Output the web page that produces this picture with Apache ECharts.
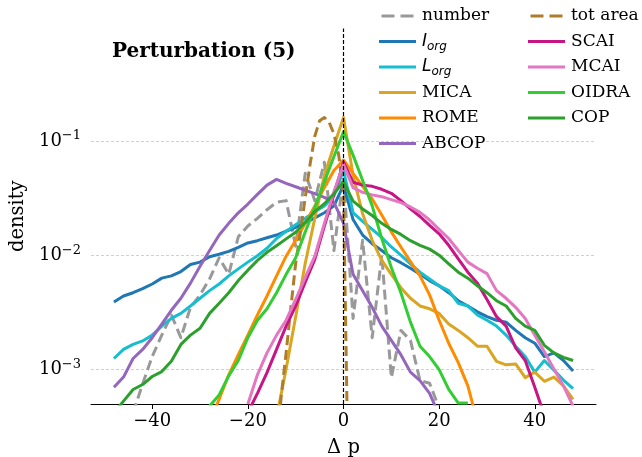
<!DOCTYPE html>
<html><head><meta charset="utf-8">
<script src="https://cdn.jsdelivr.net/npm/echarts@6/dist/echarts.min.js"></script>
<style>html,body{margin:0;padding:0;background:#fff}#c{width:642px;height:457px}</style>
</head><body><div id="c"></div>
<script>
// ---- data (density per bin of Δp) ----
const xs = [-48,-46,-44,-42,-40,-38,-36,-34,-32,-30,-28,-26,-24,-22,-20,-18,-16,-14,-12,-10,-8,-6,-4,-2,0,
            2,4,6,8,10,12,14,16,18,20,22,24,26,28,30,32,34,36,38,40,42,44,46,48];
const xTot = [-14,-13,-12,-11,-10,-9,-8,-7,-6,-5,-4,-3,-2,-1,0,1];

const number = [null,null,0.00042,0.00075,0.0013,0.0020,0.0030,0.0019,0.0035,0.0045,0.0062,0.0095,0.0068,0.0145,0.018,0.021,0.025,0.029,0.030,0.012,0.052,0.030,0.065,0.011,
  0.048,
  0.0028,0.0135,0.0019,0.0100,0.00085,0.0022,0.0018,0.00080,0.00076,0.00046,null,null,null,null,null,null,null,null,null,null,null,null,null,null];
const totArea = [0.0002,0.0006,0.0014,0.0035,0.0085,0.016,0.032,0.062,0.11,0.15,0.16,0.145,0.115,0.075,0.035,0.0001];
const Iorg = [0.0039,0.0044,0.0047,0.0051,0.0056,0.0063,0.0066,0.0072,0.0083,0.0087,0.0097,0.0102,0.0108,0.0117,0.0128,0.0134,0.0142,0.0150,0.0162,0.0175,0.0192,0.0212,0.0235,0.0270,
  0.041,
  0.0205,0.0150,0.0126,0.0110,0.0095,0.0086,0.0077,0.0068,0.0060,0.0054,0.0047,0.0040,0.0036,0.0032,0.0029,0.0027,0.0026,0.0022,0.0019,0.0017,0.0013,0.0014,0.0012,0.00097];
const Lorg = [0.00125,0.00150,0.00166,0.00178,0.0020,0.0024,0.0028,0.0031,0.0036,0.0042,0.0049,0.0056,0.0066,0.0076,0.0087,0.0099,0.0115,0.0140,0.0162,0.0185,0.021,0.024,0.027,0.033,
  0.055,
  0.0236,0.0198,0.0168,0.0143,0.0118,0.0100,0.0084,0.0071,0.0062,0.0054,0.0049,0.0038,0.0036,0.0030,0.0027,0.0024,0.0020,0.0016,0.0013,0.00095,0.0012,0.00099,0.00081,0.00068];
const MICA = [null,null,null,null,null,null,null,null,null,null,null,null,null,null,null,null,null,0.00038,0.00101,0.0029,0.0085,0.021,0.050,0.090,
  0.16,
  0.050,0.023,0.0135,0.0090,0.0068,0.0052,0.0042,0.0036,0.0034,0.0031,0.0025,0.0022,0.0019,0.0016,0.0016,0.00118,0.0011,0.00112,0.00085,0.00095,0.00079,0.00086,0.00072,0.00055];
const ROME = [null,null,null,null,null,null,null,null,null,null,0.00035,0.00055,0.0009,0.00135,0.0020,0.0030,0.0044,0.0066,0.0098,0.0135,0.019,0.027,0.039,0.055,
  0.068,
  0.052,0.040,0.031,0.0225,0.0160,0.0118,0.0088,0.0066,0.0045,0.0027,0.0017,0.00115,0.00072,0.00035,null,null,null,null,null,null,null,null,null,null];
const ABCOP = [0.00070,0.00086,0.00125,0.00150,0.0019,0.0025,0.0033,0.0042,0.0057,0.0080,0.0110,0.0150,0.0190,0.0235,0.028,0.034,0.041,0.046,0.0425,0.0397,0.037,0.0345,0.032,0.029,
  0.019,
  0.0068,0.0049,0.0035,0.0024,0.0018,0.00135,0.00095,0.0008,0.00062,0.00040,null,null,null,null,null,null,null,null,null,null,null,null,null,null];
const SCAI = [null,null,null,null,null,null,null,null,null,null,null,null,null,null,0.00042,0.00062,0.00094,0.0015,0.0024,0.0036,0.0058,0.0092,0.018,0.034,
  0.065,
  0.0434,0.041,0.040,0.0377,0.0348,0.030,0.0254,0.0218,0.0182,0.0154,0.0122,0.0093,0.0071,0.0057,0.0041,0.0029,0.0024,0.00155,0.00120,0.00070,0.00040,null,null,null];
const MCAI = [null,null,null,null,null,null,null,null,null,null,null,null,null,null,0.00050,0.00090,0.00140,0.0020,0.0027,0.0041,0.0064,0.0098,0.019,0.036,
  0.062,
  0.039,0.0355,0.0337,0.0325,0.0306,0.0288,0.0264,0.0237,0.0203,0.0168,0.0140,0.0110,0.0087,0.0077,0.0069,0.0049,0.0042,0.0035,0.0028,0.0020,0.00143,0.00101,0.00072,0.00048];
const OIDRA = [null,null,null,null,null,null,null,null,null,null,0.00048,0.00060,0.00088,0.0012,0.0019,0.0027,0.0034,0.0047,0.0068,0.0095,0.016,0.026,0.044,0.073,
  0.12,
  0.075,0.045,0.027,0.014,0.0078,0.0047,0.0026,0.0016,0.0013,0.0010,0.00067,0.00051,0.00051,null,null,null,null,null,null,null,null,null,null,null];
const COP = [0.00042,0.00053,0.00067,0.00074,0.00087,0.00096,0.00118,0.00166,0.0020,0.0023,0.0031,0.0038,0.0047,0.0060,0.0074,0.0090,0.0106,0.0121,0.0139,0.0159,0.0194,0.024,0.0282,0.0345,
  0.044,
  0.0297,0.0254,0.0222,0.0190,0.0168,0.0152,0.0134,0.0122,0.0113,0.0100,0.0084,0.0071,0.0063,0.0054,0.0047,0.0040,0.0036,0.0028,0.0024,0.0022,0.00163,0.0014,0.00128,0.0012];

const xTicks = [-40, -20, 0, 20, 40];
const yTicks = [0.001, 0.01, 0.1];

// ---- styling ----
const SERIF = "'DejaVu Serif', serif";
const SANS = "'DejaVu Sans', sans-serif";
const SOLID_ICON = 'path://M0,0h37v3h-37z';
const DASH_ICON = 'path://M0,0h13v3h-13z M19,0h13v3h-13z';
const specs = [
  {name:'number',   x: xs,   y: number,  color:'#999999', dash:[10,5]},
  {name:'I_org',    x: xs,   y: Iorg,    color:'#1f77b4'},
  {name:'L_org',    x: xs,   y: Lorg,    color:'#17becf'},
  {name:'MICA',     x: xs,   y: MICA,    color:'#daa520'},
  {name:'ROME',     x: xs,   y: ROME,    color:'#ff8c00'},
  {name:'ABCOP',    x: xs,   y: ABCOP,   color:'#9467bd'},
  {name:'tot area', x: xTot, y: totArea, color:'#ae7c2a', dash:[10,5]},
  {name:'SCAI',     x: xs,   y: SCAI,    color:'#c71585'},
  {name:'MCAI',     x: xs,   y: MCAI,    color:'#e377c2'},
  {name:'OIDRA',    x: xs,   y: OIDRA,   color:'#32cd32'},
  {name:'COP',      x: xs,   y: COP,     color:'#2ca02c'}
];

const series = specs.map((s, k) => ({
  name: s.name,
  type: 'line',
  data: s.x.map((xv, i) => [xv, s.y[i]]),
  showSymbol: false,
  symbol: 'none',
  connectNulls: false,
  clip: true,
  color: s.color,
  itemStyle: {color: s.color},
  lineStyle: {color: s.color, width: 3, type: s.dash || 'solid', cap: 'butt', join: 'round'},
  z: 2 + k,
  animation: false
}));
series[series.length - 1].markLine = {
  silent: true, symbol: ['none','none'], label: {show: false},
  lineStyle: {color: '#000', type: [4, 2], width: 1.2},
  data: [{xAxis: 0}], animation: false, z: 50
};

const legendText = {
  fontFamily: SERIF, fontSize: 17, lineHeight: 22, color: '#000', padding: [0,0,0,1],
  rich: {
    i:   {fontFamily: SANS, fontStyle: 'italic', fontSize: 17, lineHeight: 22, color: '#000'},
    sub: {fontFamily: SANS, fontStyle: 'italic', fontSize: 12, lineHeight: 12, verticalAlign: 'bottom', color: '#000'}
  }
};
const legendFmt = n => n === 'I_org' ? '{i|I}{sub|org}' : (n === 'L_org' ? '{i|L}{sub|org}' : n);
const dashed = new Set(['number', 'tot area']);
const mkLegend = (left, names) => ({
  orient: 'vertical', left: left, top: 0, itemWidth: 37, itemHeight: 3, itemGap: 3.5,
  selectedMode: false, textStyle: legendText, formatter: legendFmt,
  data: names.map(n => ({name: n, icon: dashed.has(n) ? DASH_ICON : SOLID_ICON}))
});

const isPow10 = v => { const l = Math.log10(v); return Math.abs(l - Math.round(l)) < 1e-6; };

const option = {
  animation: false,
  backgroundColor: '#fff',
  title: {text: 'Perturbation (5)', left: 107, top: 37,
    textStyle: {fontFamily: SERIF, fontWeight: 'bold', fontSize: 20, color: '#000'}},
  legend: [
    mkLegend(374, ['number','I_org','L_org','MICA','ROME','ABCOP']),
    mkLegend(523, ['tot area','SCAI','MCAI','OIDRA','COP'])
  ],
  grid: {left: 91, right: 46, top: 28.5, bottom: 53, containLabel: false, outerBoundsMode: 'none'},
  xAxis: {
    type: 'value', min: -52.8, max: 52.8,
    name: 'Δ p', nameLocation: 'middle', nameGap: 34,
    nameTextStyle: {fontFamily: SERIF, fontSize: 19.5, color: '#000'},
    axisLine: {show: true, onZero: false, lineStyle: {color: '#000', width: 1}},
    axisTick: {show: true, length: 5, lineStyle: {color: '#000', width: 1}, customValues: xTicks},
    axisLabel: {customValues: xTicks, margin: 8, fontFamily: SERIF, fontSize: 18, color: '#000',
      formatter: v => String(v).replace('-', '\u2212')},
    splitLine: {show: false}
  },
  yAxis: {
    type: 'log', logBase: 10, min: 5e-4, max: 0.96,
    name: 'density', nameLocation: 'middle', nameGap: 58,
    nameTextStyle: {fontFamily: SERIF, fontSize: 19.5, color: '#000'},
    axisLine: {show: false},
    axisTick: {show: false},
    axisLabel: {
      margin: 10, fontFamily: SERIF, fontSize: 18, color: '#000',
      formatter: v => {
        if (!isPow10(v)) return '';
        const n = Math.round(Math.log10(v));
        if (!yTicks.some(t => Math.abs(Math.log10(t) - n) < 1e-6)) return '';
        return '{b|10}{s|' + (n < 0 ? '\u2212' : '') + Math.abs(n) + '}';
      },
      rich: {
        b: {fontFamily: SERIF, fontSize: 18, lineHeight: 23, color: '#000'},
        s: {fontFamily: SERIF, fontSize: 13, lineHeight: 13, verticalAlign: 'top', color: '#000'}
      }
    },
    splitLine: {show: true, showMinLine: false, showMaxLine: false,
      lineStyle: {color: '#c4c4c4', type: [3, 2], width: 0.8}}
  },
  series: series
};
const chart = echarts.init(document.getElementById('c'), null, {renderer: 'canvas'});
chart.setOption(option);
</script></body></html>
